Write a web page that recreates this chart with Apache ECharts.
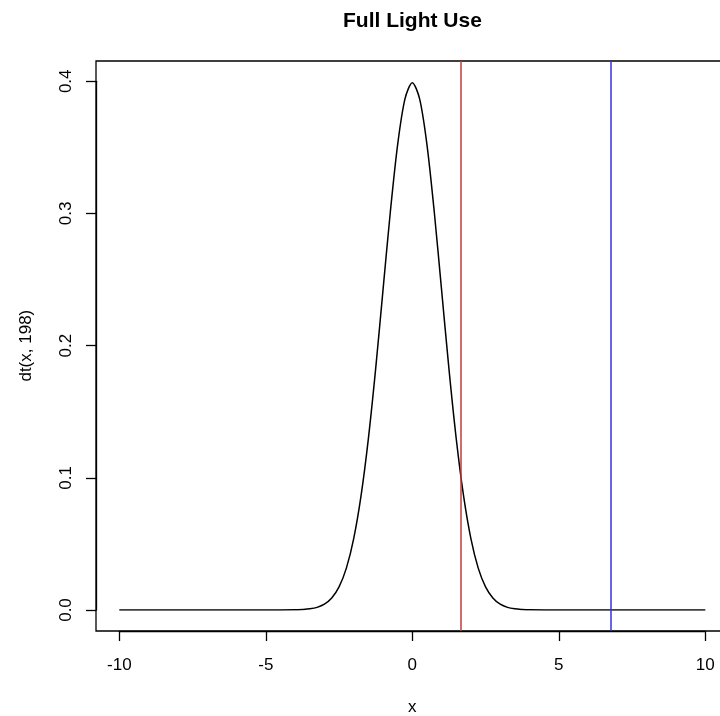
<!DOCTYPE html>
<html>
<head>
<meta charset="utf-8">
<script src="https://cdn.jsdelivr.net/npm/echarts@6/dist/echarts.min.js"></script>
<style>html,body{margin:0;padding:0;background:#fff;}#c{width:720px;height:716px;}</style>
</head>
<body>
<div id="c"></div>
<script>
// Density curve dt(x, 198)
const xs = [-10, -8, -6, -5, -4.5, -4, -3.75, -3.5, -3.25, -3, -2.75, -2.5, -2.25, -2, -1.75, -1.5, -1.25, -1, -0.75, -0.5, -0.25,
            0, 0.25, 0.5, 0.75, 1, 1.25, 1.5, 1.75, 2, 2.25, 2.5, 2.75, 3, 3.25, 3.5, 3.75, 4, 4.5, 5, 6, 8, 10];
const ys = [0, 0, 0, 0.00002, 0.00002, 0.0001, 0.0004, 0.0009, 0.0020, 0.0044, 0.0091, 0.0175, 0.0317, 0.0540, 0.0863, 0.1295, 0.1826, 0.2420, 0.3011, 0.3521, 0.3867,
            0.3989, 0.3867, 0.3521, 0.3011, 0.2420, 0.1826, 0.1295, 0.0863, 0.0540, 0.0317, 0.0175, 0.0091, 0.0044, 0.0020, 0.0009, 0.0004, 0.0001, 0.00002, 0.00002, 0, 0, 0];
const redLineX = 1.6526;
const blueLineX = 6.76;
const xTicks = [-10, -5, 0, 5, 10];
const yTicks = [0, 0.1, 0.2, 0.3, 0.4];
const titleText = 'Full Light Use';
const xName = 'x';
const yName = 'dt(x, 198)';

const curve = xs.map((x, i) => [x, ys[i]]);
const font = '"Liberation Sans", Arial, sans-serif';

const chart = echarts.init(document.getElementById('c'), null, {renderer: 'canvas'});
chart.setOption({
  animation: false,
  backgroundColor: '#ffffff',
  title: {
    text: titleText, left: 338, top: 6,
    textStyle: {fontFamily: font, fontSize: 21, fontWeight: 'bold', color: '#000'}
  },
  grid: [
    {left: 96, width: 632.6, top: 61, bottom: 85, show: true, borderColor: '#000', borderWidth: 1.3,
     backgroundColor: 'transparent', containLabel: false, outerBoundsMode: 'none'},
    {left: 119.3, right: 14.7, top: 81.3, bottom: 106, containLabel: false, outerBoundsMode: 'none'}
  ],
  xAxis: [
    {gridIndex: 0, type: 'value', min: -10.8, max: 10.8, show: false},
    {gridIndex: 1, type: 'value', min: -10, max: 10, interval: 5, offset: 21,
     axisLine: {show: true, onZero: false, lineStyle: {color: '#000', width: 1.3}},
     axisTick: {show: true, length: 10, lineStyle: {color: '#000', width: 1.3}},
     splitLine: {show: false},
     axisLabel: {color: '#000', fontFamily: font, fontSize: 17, margin: 26},
     name: xName, nameLocation: 'middle', nameGap: 68,
     nameTextStyle: {color: '#000', fontFamily: font, fontSize: 17}}
  ],
  yAxis: [
    {gridIndex: 0, type: 'value', min: -0.01596, max: 0.41487, show: false},
    {gridIndex: 1, type: 'value', min: 0, max: 0.4, interval: 0.1, offset: 23.3,
     axisLine: {show: true, onZero: false, lineStyle: {color: '#000', width: 1.3}},
     axisTick: {show: true, length: 10, lineStyle: {color: '#000', width: 1.3}},
     splitLine: {show: false},
     axisLabel: {color: '#000', fontFamily: font, fontSize: 17, margin: 21, rotate: 90,
                 formatter: v => v.toFixed(1)},
     name: yName, nameLocation: 'middle', nameGap: 61, nameRotate: 90,
     nameTextStyle: {color: '#000', fontFamily: font, fontSize: 17}}
  ],
  series: [
    {type: 'line', xAxisIndex: 1, yAxisIndex: 1, data: curve, showSymbol: false, smooth: 0.3,
     lineStyle: {color: '#000', width: 1.5}},
    {type: 'line', xAxisIndex: 0, yAxisIndex: 0, data: [], 
     markLine: {silent: true, symbol: 'none', label: {show: false},
       data: [
         {xAxis: redLineX, lineStyle: {color: '#c33a3a', width: 1.5, type: 'solid'}},
         {xAxis: blueLineX, lineStyle: {color: '#3333dd', width: 1.5, type: 'solid'}}
       ]}}
  ]
});
</script>
</body>
</html>
